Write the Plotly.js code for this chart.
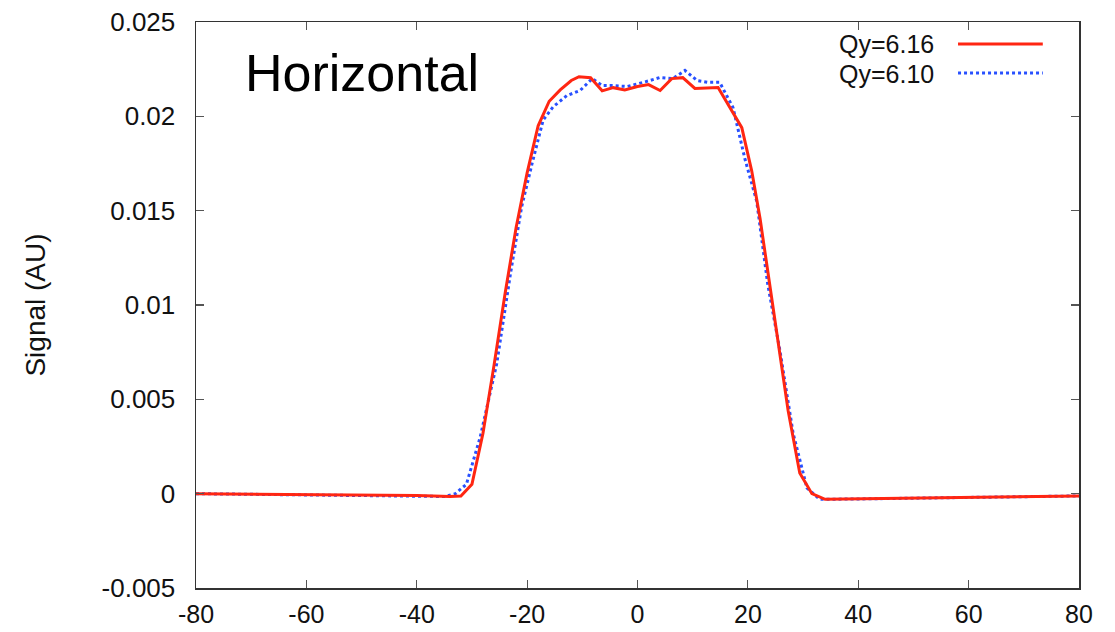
<!DOCTYPE html>
<html>
<head>
<meta charset="utf-8">
<script src="https://cdn.plot.ly/plotly-3.0.1.min.js"></script>
<style>html,body{margin:0;padding:0;background:#fff;}#chart{width:1115px;height:632px;}</style>
</head>
<body>
<div id="chart"></div>
<script>
// Qy=6.16 (solid red)
const redX = [-80, -70, -60, -50, -40, -34, -32, -30, -28, -26, -24, -22, -20, -18, -16, -14, -12, -10.6, -8.5, -6.4, -4.4, -2.3, 0, 2, 4.1, 6.2, 8.2, 10.4, 14.6, 18.9, 20.7, 22.2, 25.2, 27.3, 29.4, 31.6, 34, 40, 50, 60, 70, 80];
const redY = [0.00000, -0.00002, -0.00004, -0.00006, -0.00010, -0.00015, -0.00012, 0.0005, 0.0032, 0.0068, 0.0106, 0.0141, 0.0170, 0.0195, 0.0208, 0.0214, 0.0219, 0.0221, 0.02205, 0.02135, 0.02152, 0.0214, 0.02158, 0.02168, 0.02137, 0.0220, 0.02205, 0.02148, 0.02153, 0.0194, 0.0171, 0.0146, 0.0085, 0.0044, 0.0011, 0.0000, -0.0003, -0.00028, -0.00025, -0.00020, -0.00016, -0.00012];
// Qy=6.10 (dotted blue)
const blueX = [-80, -70, -60, -50, -40, -35, -33, -31, -28.5, -25.5, -23, -21, -19.1, -17.1, -15.3, -12.8, -10.4, -8.2, -6.4, -4.4, -1.9, 0.5, 2.3, 4.1, 6.4, 8.6, 10.8, 12.8, 14.9, 17.3, 19.5, 21.6, 23.6, 25.8, 28.2, 30.7, 33, 40, 50, 60, 70, 80];
const blueY = [0.00000, -0.00003, -0.00005, -0.00008, -0.00012, -0.00015, 0.0000, 0.0005, 0.0030, 0.0069, 0.0117, 0.0152, 0.0175, 0.0198, 0.0205, 0.0211, 0.02137, 0.0220, 0.02163, 0.02163, 0.02158, 0.02174, 0.0219, 0.02206, 0.0220, 0.02243, 0.0219, 0.0218, 0.0218, 0.02047, 0.0177, 0.0155, 0.0111, 0.0076, 0.0032, 0.0003, -0.0003, -0.00028, -0.00025, -0.00020, -0.00016, -0.00012];

const xTickVals = [-80, -60, -40, -20, 0, 20, 40, 60, 80];
const xTickText = ["-80", "-60", "-40", "-20", "0", "20", "40", "60", "80"];
const yTickVals = [-0.005, 0, 0.005, 0.01, 0.015, 0.02, 0.025];
const yTickText = ["-0.005", "0", "0.005", "0.01", "0.015", "0.02", "0.025"];

const seriesNames = ["Qy=6.16", "Qy=6.10"];
const redColor = "rgb(255,38,18)";
const blueColor = "rgb(40,80,255)";
const font = "Liberation Sans, Arial, Helvetica, sans-serif";

const traces = [
  {x: blueX, y: blueY, mode: "lines", name: seriesNames[1], line: {color: blueColor, width: 3, dash: "dot"}},
  {x: redX, y: redY, mode: "lines", name: seriesNames[0], line: {color: redColor, width: 3}}
];

const axisCommon = {
  showgrid: false, zeroline: false, showline: true, linecolor: "#333", linewidth: 1.5,
  mirror: "ticks", ticks: "inside", ticklen: 8, tickwidth: 1.2, tickcolor: "#555",
  tickfont: {family: font, size: 26, color: "#111"}
};

const layout = {
  width: 1115, height: 632,
  margin: {l: 196, r: 36, t: 22, b: 44},
  paper_bgcolor: "#fff", plot_bgcolor: "#fff",
  showlegend: false,
  xaxis: Object.assign({}, axisCommon, {range: [-80, 80], tickvals: xTickVals, ticktext: xTickText, ticklabelstandoff: 3,
    tickfont: {family: font, size: 25, color: "#111"}}),
  yaxis: Object.assign({}, axisCommon, {range: [-0.005, 0.025], tickvals: yTickVals, ticktext: yTickText, ticklabelstandoff: 14,
    title: {text: "Signal (AU)", font: {family: font, size: 28, color: "#111"}, standoff: 48}}),
  annotations: [
    {xref: "paper", yref: "paper", x: 0.053, y: 0.91, xanchor: "left", yanchor: "middle", text: "Horizontal", showarrow: false,
     font: {family: font, size: 52, color: "#000"}},
    {xref: "paper", yref: "paper", x: 0.838, y: 0.961, xanchor: "right", yanchor: "middle", text: seriesNames[0], showarrow: false,
     font: {family: font, size: 25, color: "#111"}},
    {xref: "paper", yref: "paper", x: 0.838, y: 0.908, xanchor: "right", yanchor: "middle", text: seriesNames[1], showarrow: false,
     font: {family: font, size: 25, color: "#111"}}
  ],
  shapes: [
    {type: "line", xref: "paper", yref: "paper", x0: 0.863, x1: 0.959, y0: 0.961, y1: 0.961, line: {color: redColor, width: 3}},
    {type: "line", xref: "paper", yref: "paper", x0: 0.863, x1: 0.959, y0: 0.910, y1: 0.910, line: {color: blueColor, width: 3, dash: "dot"}}
  ]
};

Plotly.newPlot("chart", traces, layout, {displayModeBar: false, staticPlot: true});
</script>
</body>
</html>
